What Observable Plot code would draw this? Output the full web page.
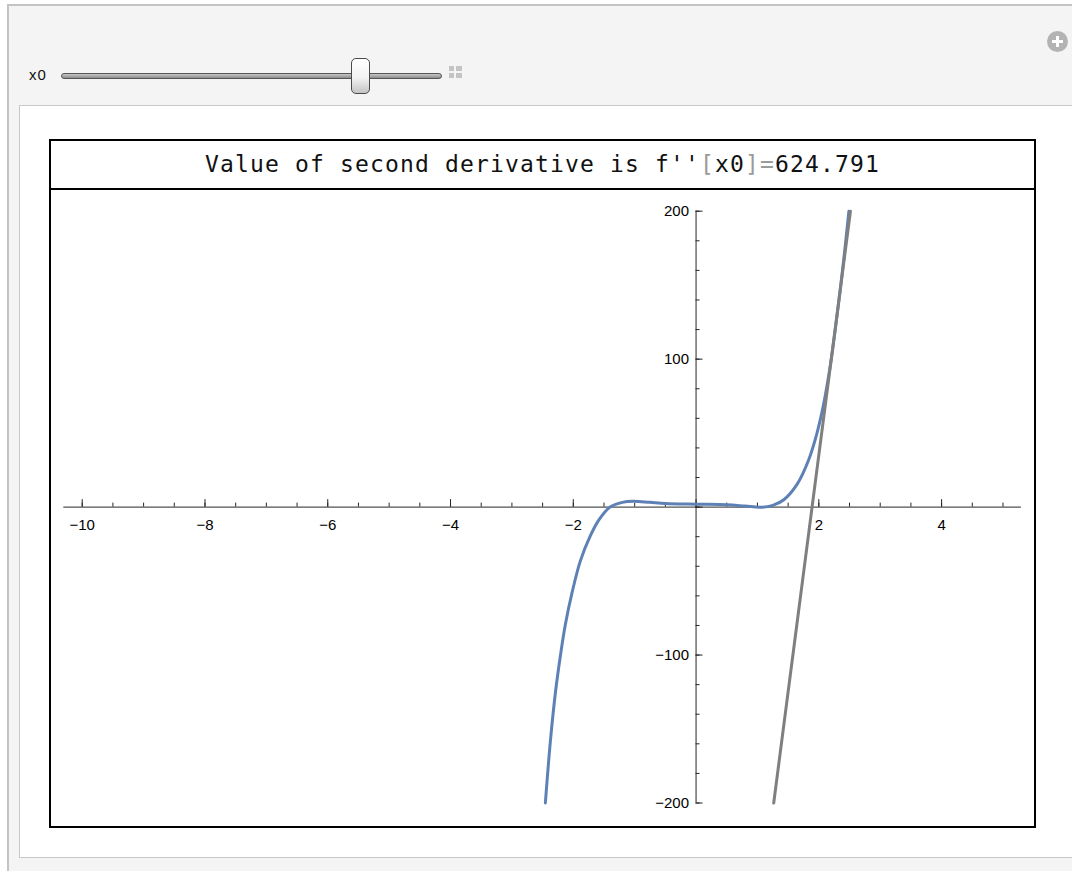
<!DOCTYPE html>
<html>
<head>
<meta charset="utf-8">
<script src="https://cdn.jsdelivr.net/npm/d3@7"></script>
<script src="https://cdn.jsdelivr.net/npm/@observablehq/plot@0.6"></script>
<style>
  html, body { margin: 0; padding: 0; background: #ffffff; width: 1072px; height: 871px; overflow: hidden; }
  #outer { position: absolute; left: 7px; top: 4px; width: 1100px; height: 900px; background: #f4f4f4;
           border-left: 2px solid #c3c3c3; border-top: 2px solid #c3c3c3; }
  #lbl { position: absolute; left: 29px; top: 66px; font: 15px "Liberation Sans", Arial, sans-serif; letter-spacing: 1px; color: #111; }
  #track { position: absolute; left: 61px; top: 73px; width: 379px; height: 4px; border-radius: 3px;
           background: linear-gradient(#c8c8c8, #8c8c8c); border: 1px solid #555; }
  #thumb { position: absolute; left: 351px; top: 58px; width: 17px; height: 34px; border-radius: 5px;
           border: 1px solid #4a4a4a; background: linear-gradient(#ffffff 0%, #f2f2f2 55%, #c4c4c4 100%); }
  #icon { position: absolute; left: 449px; top: 66px; width: 13px; height: 12px; background: #c4c4c4; }
  #icon .h { position: absolute; left: 0; top: 5px; width: 13px; height: 2px; background: #f4f4f4; }
  #icon .v { position: absolute; left: 5px; top: 0; width: 2px; height: 12px; background: #f4f4f4; }
  #plus { position: absolute; left: 1047px; top: 31px; width: 21px; height: 21px; border-radius: 50%; background: #b3b3b3; }
  #plus .h { position: absolute; left: 5px; top: 9px; width: 11px; height: 3px; background: #fff; }
  #plus .v { position: absolute; left: 9px; top: 5px; width: 3px; height: 11px; background: #fff; }
  #panel { position: absolute; left: 19px; top: 105px; width: 1060px; height: 751px; background: #fff;
           border: 1.5px solid #c8c8c8; }
  #frame { position: absolute; left: 49px; top: 139px; width: 983px; height: 685px; border: 2px solid #000; background: #fff; }
  #title { position: absolute; left: 0; top: 0; width: 983px; height: 45px; padding-bottom: 2px; border-bottom: 2px solid #000;
           display: flex; align-items: center; justify-content: center;
           font: 23px "DejaVu Sans Mono", monospace; letter-spacing: 1.15px; color: #111; white-space: pre; }
  #title .g { color: #9a9a9a; }
  #chart { position: absolute; left: 51px; top: 190px; }
</style>
</head>
<body>
<div id="outer"></div>
<div id="lbl">x0</div>
<div id="track"></div>
<div id="thumb"></div>
<div id="icon"><div class="h"></div><div class="v"></div></div>
<div id="plus"><div class="h"></div><div class="v"></div></div>
<div id="panel"></div>
<div id="frame">
  <div id="title">Value of second derivative is f''<span class="g">[</span>x0<span class="g">]=</span>624.791</div>
</div>
<div id="chart"></div>
<script>
// ---- data ----
const xDomain = [-10.3, 5.3];
const yDomain = [-200, 200];
const xTickLabels = [-10, -8, -6, -4, -2, 2, 4];
const yTickLabels = [-200, -100, 100, 200];
const xMajorTicks = [-10, -8, -6, -4, -2, 0, 2, 4];
const yMajorTicks = [-200, -100, 0, 100, 200];
const xMinorTicks = d3.range(-10, 5.01, 0.5);
const yMinorTicks = d3.range(-200, 200.1, 20);

// f(x) curve (blue)
const curveX = [-2.455, -2.375, -2.293, -2.212, -2.13, -2.021, -1.886, -1.723, -1.58, -1.40, -1.2, -1.02, -0.75, -0.5, 0, 0.5, 0.8, 1.05, 1.25, 1.43, 1.65, 1.835, 1.97, 2.08, 2.19, 2.30, 2.405, 2.49];
const curveY = [-200, -159, -126, -101, -79.5, -58, -36.5, -19.5, -8.5, 0, 3.2, 3.9, 3.2, 2.5, 2.0, 1.6, 0.7, -0.1, 1.2, 5.0, 15.7, 32, 50, 70, 96.5, 130.5, 167, 200];

// tangent line (gray)
const tangentX = [1.265, 2.515];
const tangentY = [-200, 200];

// ---- build tables ----
const curve = curveX.map((x, i) => ({x, y: curveY[i]}));
const tangent = tangentX.map((x, i) => ({x, y: tangentY[i]}));
const fmt = v => (v < 0 ? "\u2212" + Math.abs(v) : String(v));

const W = 983, H = 636;
const pxPerX = (W - 12.3 - 13.1) / (xDomain[1] - xDomain[0]);
const pxPerY = (H - 20.7 - 23.5) / (yDomain[1] - yDomain[0]);
const axisColor = "#262626";
const labelFont = {fontFamily: "'Liberation Sans', Arial, sans-serif", fontSize: 15, fill: "#000"};

const chart = Plot.plot({
  width: W,
  height: H,
  marginLeft: 12.3,
  marginRight: 13.1,
  marginTop: 20.7,
  marginBottom: 23.5,
  style: {background: "transparent", overflow: "visible"},
  x: {domain: xDomain, axis: null},
  y: {domain: yDomain, axis: null},
  marks: [
    // axes lines
    Plot.ruleY([0], {x1: () => xDomain[0], x2: () => xDomain[1], stroke: axisColor, strokeWidth: 1}),
    Plot.ruleX([0], {y1: () => yDomain[0], y2: () => yDomain[1], stroke: axisColor, strokeWidth: 1}),
    // x ticks (pointing up)
    Plot.ruleX(xMinorTicks, {x: d => d, y1: () => 0, y2: () => 4 / pxPerY, stroke: axisColor, strokeWidth: 1}),
    Plot.ruleX(xMajorTicks, {x: d => d, y1: () => 0, y2: () => 7.5 / pxPerY, stroke: axisColor, strokeWidth: 1}),
    // y ticks (pointing right)
    Plot.ruleY(yMinorTicks, {y: d => d, x1: () => 0, x2: () => 4 / pxPerX, stroke: axisColor, strokeWidth: 1}),
    Plot.ruleY(yMajorTicks, {y: d => d, x1: () => 0, x2: () => 7 / pxPerX, stroke: axisColor, strokeWidth: 1}),
    // tick labels
    Plot.text(xTickLabels, {x: d => d, y: () => 0, text: fmt, dy: 18, textAnchor: "middle", ...labelFont}),
    Plot.text(yTickLabels, {x: () => 0, y: d => d, text: fmt, dx: -7, textAnchor: "end", ...labelFont}),
    // function curve
    Plot.line(curve, {x: "x", y: "y", stroke: "#5E81B5", strokeWidth: 3, curve: "catmull-rom"}),
    // tangent line
    Plot.line(tangent, {x: "x", y: "y", stroke: "#7f7f7f", strokeWidth: 3})
  ]
});
document.getElementById("chart").appendChild(chart);
</script>
</body>
</html>
